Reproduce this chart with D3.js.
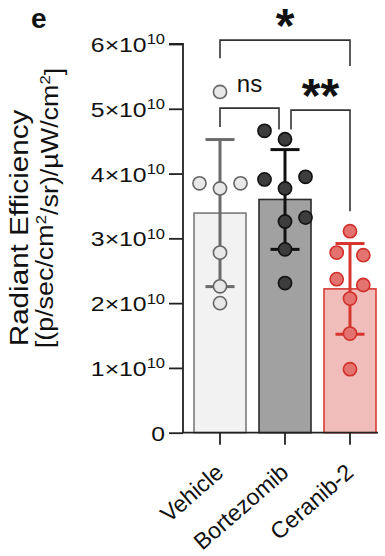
<!DOCTYPE html>
<html><head><meta charset="utf-8">
<script src="https://cdn.jsdelivr.net/npm/d3@7"></script>
<style>body{margin:0;background:#fff}svg{display:block}text{font-family:"Liberation Sans",Arial,sans-serif;fill:#111}</style>
</head><body><svg id="c" width="385" height="556"></svg>
<script>
// ---- data ----
const categories = ["Vehicle", "Bortezomib", "Ceranib-2"];
const means = [3.39e10, 3.60e10, 2.22e10];
const sds = [1.135e10, 0.77e10, 0.70e10];
const vehicleValues = [5.26e10, 3.85e10, 3.77e10, 3.85e10, 2.78e10, 2.26e10, 2.00e10];
const vehicleCols = [0, -1, 0, 1, 0, 0, 0];
const bortezomibValues = [4.66e10, 4.53e10, 3.91e10, 3.95e10, 3.77e10, 3.32e10, 3.26e10, 2.83e10, 2.31e10];
const bortezomibCols = [-1, 0, -1, 1, 0, 1, 0, 0, 0];
const ceranibValues = [3.11e10, 2.78e10, 2.74e10, 2.37e10, 2.28e10, 2.07e10, 1.53e10, 0.98e10];
const ceranibCols = [0, -1, 1, -1, 1, 0, 0, 0];
const yTicks = [0, 1e10, 2e10, 3e10, 4e10, 5e10, 6e10];
const sigLabels = ["*", "ns", "**"];
const sigFrom = [0, 0, 1];
const sigTo = [2, 1, 2];
const sigLevel = [6.06e10, 5.01e10, 4.98e10];
const sigLeftEnd = [5.78e10, 4.72e10, 4.68e10];
const sigRightEnd = [5.66e10, 4.68e10, 3.42e10];

// ---- styles ----
const barFill = ["#f2f2f2", "#a1a1a1", "#f0bdbb"];
const barStroke = ["#7a7a7a", "#2b2b2b", "#d83b35"];
const errColor = ["#6b6b6b", "#111111", "#d7342d"];
const ptFill = ["#e8e8e8", "#3d3d3d", "#e47370"];
const ptStroke = ["#666666", "#111111", "#d2302b"];
const spread = [20.5, 20.5, 13.3];

const svg = d3.select("#c");
const y = d3.scaleLinear().domain([0, 6e10]).range([432.7, 44]);
const x = d3.scaleBand().domain(categories).range([187.5, 382.5]).paddingInner(0.2).paddingOuter(0.1);
const axisX0 = 183;

const groups = [
  {values: vehicleValues, cols: vehicleCols},
  {values: bortezomibValues, cols: bortezomibCols},
  {values: ceranibValues, cols: ceranibCols}
];

// bars
svg.append("g").selectAll("rect").data(categories).join("rect")
  .attr("x", d => x(d)).attr("width", x.bandwidth())
  .attr("y", (d, i) => y(means[i])).attr("height", (d, i) => y(0) - y(means[i]))
  .attr("fill", (d, i) => barFill[i]).attr("stroke", (d, i) => barStroke[i]).attr("stroke-width", 1.6);

// error bars
const cx = d => x(d) + x.bandwidth() / 2;
const eb = svg.append("g");
categories.forEach((c, i) => {
  const g = eb.append("g").attr("stroke", errColor[i]).attr("stroke-width", 3);
  g.append("line").attr("x1", cx(c)).attr("x2", cx(c)).attr("y1", y(means[i] + sds[i])).attr("y2", y(means[i] - sds[i]));
  [means[i] + sds[i], means[i] - sds[i]].forEach(v => {
    g.append("line").attr("x1", cx(c) - 14.5).attr("x2", cx(c) + 14.5).attr("y1", y(v)).attr("y2", y(v));
  });
});

// points
categories.forEach((c, i) => {
  svg.append("g").selectAll("circle").data(groups[i].values).join("circle")
    .attr("cx", (d, k) => cx(c) + groups[i].cols[k] * spread[i])
    .attr("cy", d => y(d)).attr("r", 6.6)
    .attr("fill", ptFill[i]).attr("stroke", ptStroke[i]).attr("stroke-width", 1.6);
});

// y axis
const yAxis = d3.axisLeft(y).tickValues(yTicks).tickSize(14).tickPadding(4).tickFormat("");
const ya = svg.append("g").attr("transform", `translate(${axisX0},0)`).call(yAxis);
ya.select(".domain").attr("stroke", "#222").attr("stroke-width", 1.8).attr("d", `M-14,${y(6e10)}H0V${y(0)}`);
ya.selectAll(".tick line").attr("stroke", "#222").attr("stroke-width", 1.8);
ya.selectAll(".tick").each(function(d) {
  const t = d3.select(this).append("text").attr("transform", "translate(-18,0) scale(1.18,1)").attr("dy", "0.36em")
    .attr("text-anchor", "end").style("font-size", "21px").attr("fill", "#111");
  if (d === 0) { t.text("0"); }
  else {
    t.append("tspan").text(`${d / 1e10}×10`);
    t.append("tspan").attr("dy", "-0.55em").style("font-size", "14px").text("10");
  }
});

// x axis
const xa = svg.append("g").attr("transform", `translate(0,${y(0)})`);
xa.append("line").attr("x1", axisX0 - 1).attr("x2", 378).attr("y1", 0).attr("y2", 0).attr("stroke", "#222").attr("stroke-width", 1.8);
xa.selectAll("line.tk").data(categories).join("line").attr("class", "tk")
  .attr("x1", d => cx(d)).attr("x2", d => cx(d)).attr("y1", 0).attr("y2", 12)
  .attr("stroke", "#222").attr("stroke-width", 1.8);
xa.selectAll("text").data(categories).join("text")
  .attr("transform", d => `translate(${cx(d) + 5},${42}) rotate(-41)`)
  .attr("text-anchor", "end").style("font-size", "23px").text(d => d);

// significance brackets
const br = svg.append("g").attr("stroke", "#333").attr("stroke-width", 1.6).attr("fill", "none");
sigLabels.forEach((lab, j) => {
  const inset = (sigFrom[j] === 0 && sigTo[j] === 2) ? 0 : 6;
  const xl = cx(categories[sigFrom[j]]) + (sigFrom[j] === 1 ? inset : 0);
  const xr = cx(categories[sigTo[j]]) - (sigTo[j] === 1 ? inset : 0);
  br.append("path").attr("d", `M${xl},${y(sigLeftEnd[j])}V${y(sigLevel[j])}H${xr}V${y(sigRightEnd[j])}`);
  const star = lab.includes("*");
  svg.append("text").attr("x", (xl + xr) / 2)
    .attr("y", star ? y(sigLevel[j]) + 2 : y(sigLevel[j]) - 16)
    .attr("text-anchor", "middle")
    .style("font-size", star ? "48px" : "24px").style("font-weight", star ? "bold" : "normal")
    .text(lab);
});

// y title
const yt = svg.append("text").attr("transform", "translate(28,228) rotate(-90) scale(1.14,1)").attr("text-anchor", "middle").style("font-size", "26px");
yt.append("tspan").attr("x", 0).attr("y", 0).text("Radiant Efficiency");
const l2 = svg.append("text").attr("transform", "translate(53,208) rotate(-90) scale(1.12,1)").attr("text-anchor", "middle").style("font-size", "24px");
l2.append("tspan").text("[(p/sec/cm");
l2.append("tspan").attr("dy", "-0.5em").style("font-size", "15px").text("2");
l2.append("tspan").attr("dy", "0.5em").text("/sr)/µW/cm");
l2.append("tspan").attr("dy", "-0.5em").style("font-size", "15px").text("2");
l2.append("tspan").attr("dy", "0.5em").text("]");

// panel letter
svg.append("text").attr("x", 31).attr("y", 28).style("font-size", "28px").style("font-weight", "bold").text("e");
</script></body></html>
